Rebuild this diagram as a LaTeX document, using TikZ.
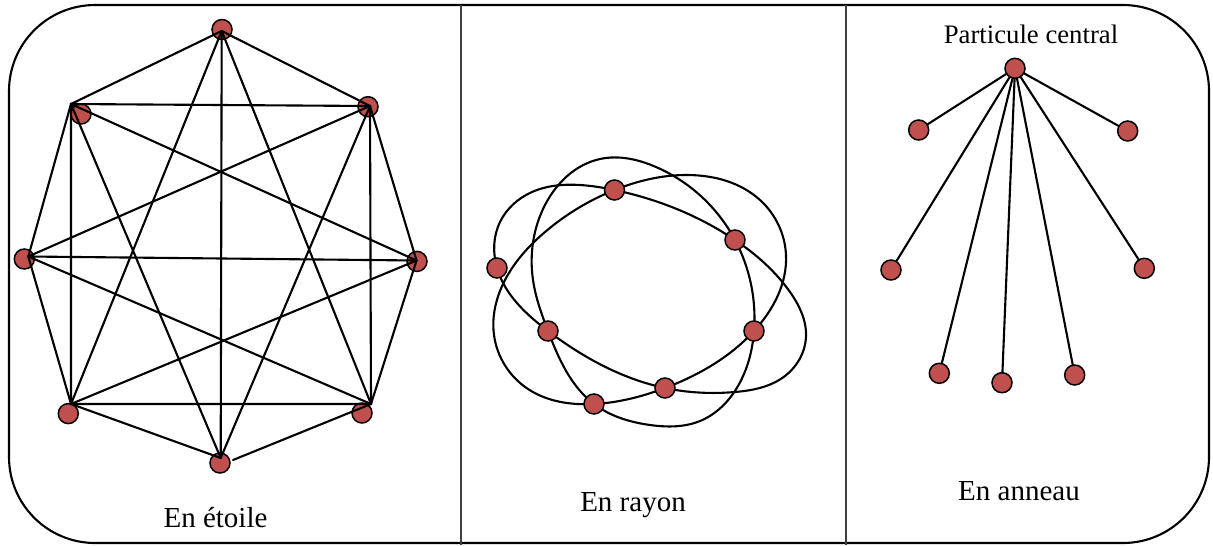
\documentclass[tikz,border=0pt]{standalone}
\usepackage{fontspec}
\setmainfont{Liberation Serif}
\usetikzlibrary{hobby}
\definecolor{nodered}{RGB}{192,80,77}
\begin{document}
\begin{tikzpicture}[x=0.02cm,y=-0.02cm,
  ball/.style={circle,draw=black,line width=0.85pt,fill=nodered,inner sep=0pt,minimum size=11.4pt},
  edge/.style={line width=1.2pt,line cap=round},
  orbit/.style={line width=1.2pt,use Hobby shortcut,closed=true},
  lbl/.style={font=\fontsize{16.5}{18}\selectfont,inner sep=0pt},
  frame/.style={line width=1.2pt},
  divider/.style={line width=0.9pt,black!75}]
\useasboundingbox (0,0) rectangle (1213,545);

% frame and dividers
\draw[frame,rounded corners=49pt] (9,5) rectangle (1209,543);
\coordinate (d1t) at (461,5);  \coordinate (d1b) at (461,545);
\coordinate (d2t) at (846,5);  \coordinate (d2b) at (846,545);
\draw[divider] (d1t) -- (d1b);
\draw[divider] (d2t) -- (d2b);

% ---------------- left panel : En etoile ----------------
\node[ball] (t)  at (222,29.5) {};
\node[ball] (ur) at (368,106.7) {};
\node[ball] (r)  at (417,261.4) {};
\node[ball] (lr) at (362,413) {};
\node[ball] (b)  at (220,463) {};
\node[ball] (ll) at (68.3,413.6) {};
\node[ball] (l)  at (24.3,259) {};
\node[ball] (ul) at (81,114) {};
\coordinate (vt)  at (221.7,31);
\coordinate (vur) at (370,106);
\coordinate (vr)  at (416.5,260.5);
\coordinate (vlr) at (371,404);
\coordinate (vb)  at (220.7,458);
\coordinate (vll) at (71,404);
\coordinate (vl)  at (28.3,256.5);
\coordinate (vul) at (71,104);
\coordinate (vlrb) at (233,460);
% perimeter
\draw[edge] (vt) -- (vur) -- (vr) -- (vlr);
\draw[edge] (vlr) -- (vlrb);
\draw[edge] (vb) -- (vll) -- (vl) -- (vul) -- (vt);
% square
\draw[edge] (vul) -- (vur) -- (vlr) -- (vll) -- cycle;
% axes
\draw[edge] (vt) -- (vb);
\draw[edge] (vl) -- (vr);
% star lines
\draw[edge] (vt) -- (vll);
\draw[edge] (vt) -- (vlr);
\draw[edge] (vul) -- (vr);
\draw[edge] (vul) -- (vb);
\draw[edge] (vur) -- (vl);
\draw[edge] (vur) -- (vb);
\draw[edge] (vl) -- (vlr);
\draw[edge] (vr) -- (vll);
\node[lbl] (lab1) at (215.5,518) {En étoile};

% ---------------- middle panel : En rayon ----------------
\coordinate (n1) at (614.5,190);
\coordinate (n2) at (735,240);
\coordinate (n3) at (754,331);
\coordinate (n4) at (665,388);
\coordinate (n5) at (594,404);
\coordinate (n6) at (548,331);
\coordinate (n7) at (497,268);
% orbit P
\draw[orbit] (n7) .. (500,222) .. (532,192) .. (580,185) .. (n1) .. (n2)
  .. (790,292) .. (806,337) .. (785,376) .. (735,392) .. (n4) .. (n6);
% orbit Q
\draw[orbit] (n1) .. (688,175) .. (760,200) .. (786,255) .. (n3) .. (n4) .. (n5)
  .. (528,389) .. (494,335) .. (505,280) .. (545,232);
% orbit R
\draw[orbit] (n2) .. (n3) .. (738,386) .. (700,421) .. (650,425) .. (n5) .. (n6)
  .. (533,280) .. (545,205) .. (600,159) .. (656,167);
\foreach \n in {n1,n2,n3,n4,n5,n6,n7} {\node[ball] (b\n) at (\n) {};}
\node[lbl] (lab2) at (633,505) {En rayon};

% ---------------- right panel : En anneau ----------------
\node[lbl,font=\fontsize{15.2}{17}\selectfont] (lab4) at (1031,34) {Particule central};
\node[ball] (c)  at (1015,68.3) {};
\node[ball] (o1) at (918.7,130) {};
\node[ball] (o2) at (1127.7,131) {};
\node[ball] (o3) at (891,270) {};
\node[ball] (o4) at (1144.3,268.3) {};
\node[ball] (o5) at (939.3,373.3) {};
\node[ball] (o6) at (1002,382.7) {};
\node[ball] (o7) at (1074.7,375) {};
\foreach \o in {o1,o2,o3,o4,o5,o6,o7} {\draw[edge] (c) -- (\o);}
\node[lbl] (lab3) at (1019,491) {En anneau};
\end{tikzpicture}
\end{document}
